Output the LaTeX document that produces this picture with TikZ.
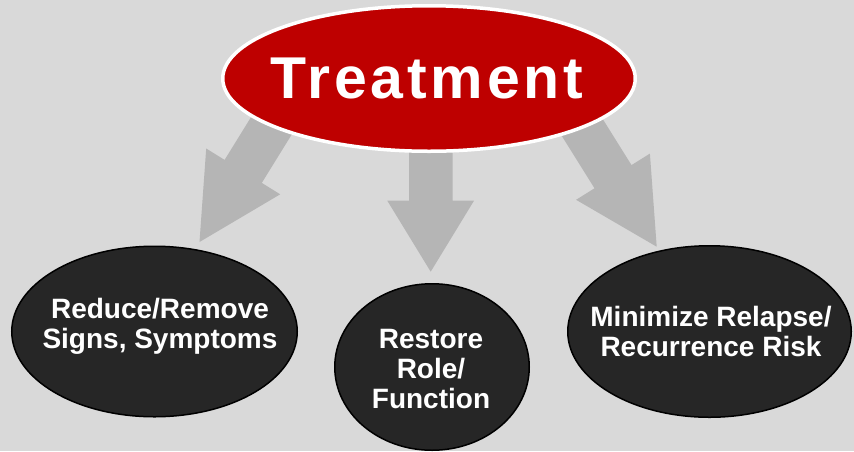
\documentclass[tikz,border=0pt]{standalone}
\usepackage{fontspec}
\setmainfont{Liberation Sans}
\newfontfamily\treatfont[LetterSpace=6.5]{Liberation Sans}
\usetikzlibrary{shapes.geometric}
\definecolor{bgray}{RGB}{217,217,217}
\definecolor{agray}{RGB}{181,181,181}
\definecolor{tred}{RGB}{190,0,0}
\definecolor{darkfill}{RGB}{38,38,38}
\begin{document}
\begin{tikzpicture}[x=1pt,y=-1pt,
  bubble/.style={ellipse, draw=black, line width=1.5pt, fill=darkfill, inner sep=0pt},
  bubbletext/.style={text=white, font=\fontsize{28}{30}\selectfont\bfseries, align=center, anchor=base, inner sep=0pt},
  blockarrow/.style={fill=agray}]
\fill[bgray] (0,0) rectangle (854,451);
\useasboundingbox (0,0) rectangle (854,451);
% block arrows
\coordinate (tipL) at (199.5,242);
\coordinate (tipM) at (430.7,271.7);
\coordinate (tipR) at (656.7,246.7);
\fill[blockarrow] (277.2,74.8) -- (224.6,159.9) -- (206.2,148.5) -- (tipL) -- (280.2,194.3) -- (261.8,182.9) -- (314.4,97.8) -- cycle;
\fill[blockarrow] (409,120) -- (409,200.7) -- (387.3,200.7) -- (tipM) -- (474,200.7) -- (452.7,200.7) -- (452.7,120) -- cycle;
\fill[blockarrow] (578.5,80.3) -- (631.5,165.1) -- (649.9,153.6) -- (tipR) -- (576.1,199.8) -- (594.5,188.3) -- (541.5,103.5) -- cycle;
% top ellipse
\node[ellipse, fill=tred, draw=white, line width=3.5pt, minimum width=412.5pt, minimum height=145.5pt, inner sep=0pt] (treat) at (429,78.5) {};
\node[text=white, inner sep=0pt, font=\treatfont\fontsize{59}{60}\selectfont\bfseries] (treattxt) at (427,78) {Treatment};
% bottom ellipses
\node[bubble, minimum width=285.5pt, minimum height=170.5pt] (reduce) at (154.5,331.5) {};
\node[bubbletext] (reducetxt) at (160,348) {Reduce/Remove\\Signs, Symptoms};
\node[bubble, minimum width=194.5pt, minimum height=166.5pt] (restore) at (432,367) {};
\node[bubbletext] (restoretxt) at (431,408) {Restore\\Role/\\Function};
\node[bubble, minimum width=283.5pt, minimum height=171.5pt] (minimize) at (709.5,331.5) {};
\node[bubbletext] (minimizetxt) at (711,356) {Minimize Relapse/\\Recurrence Risk};
\end{tikzpicture}
\end{document}
